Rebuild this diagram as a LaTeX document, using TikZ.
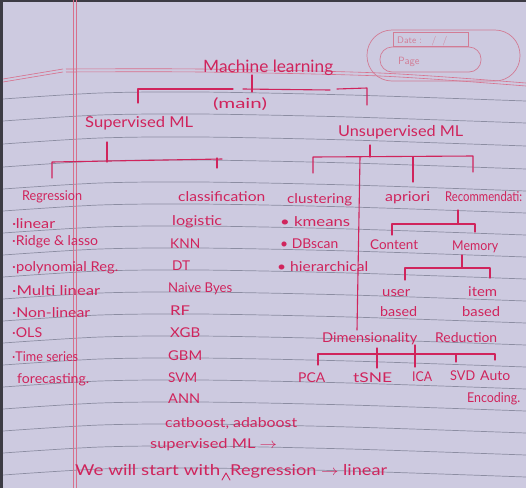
\documentclass[tikz,border=0pt]{standalone}
\usepackage{fontspec}
\setmainfont{Lato}
\definecolor{paper}{HTML}{CDCAE0}
\definecolor{rulec}{HTML}{8C8DA2}
\definecolor{marginc}{HTML}{D8708C}
\definecolor{inkc}{HTML}{D0245C}
\definecolor{stampc}{HTML}{D27C95}
\definecolor{edgec}{HTML}{3C3B44}
% handwriting: stretch the text to a given width, keep its height
\newcommand{\hw}[2]{\resizebox{#1pt}{\height}{#2}}
\begin{document}
\begin{tikzpicture}[x=1pt,y=-1pt,
  rule/.style={draw=rulec, line width=0.7pt},
  marginline/.style={draw=marginc, line width=0.6pt},
  conn/.style={draw=inkc, line width=1.1pt, line cap=round, line join=round},
  hw/.style={text=inkc, inner sep=0pt, anchor=base west, font=\fontsize{13.5}{15}\selectfont},
  big/.style={font=\fontsize{17}{19}\selectfont},
  mid/.style={font=\fontsize{15}{17}\selectfont},
  stamp/.style={draw=stampc, line width=0.7pt}]
\useasboundingbox (0,0) rectangle (526,488);
% paper
\fill[paper] (0,0) rectangle (526,488);
\fill[edgec] (0,0) rectangle (3,488);
\fill[edgec] (0,0) rectangle (526,2);

% ruled lines (the sheet curves slightly)
\foreach \yy in {92,114,137,160,182,204,226,248,270,292,314,336,358,380,402,424,446,468}
  \draw[rule] plot[smooth] coordinates {(3,\yy+7) (100,\yy+1) (200,\yy) (350,\yy+3) (526,\yy+9)};

% header double line
\draw[marginline] (3,79) -- (63,69);
\draw[marginline] (3,82) -- (63,72);
\draw[marginline] plot[smooth] coordinates {(66,69) (200,69) (380,73) (526,83)};
\draw[marginline] plot[smooth] coordinates {(66,72) (200,72) (380,76) (526,86)};
% margin double line
\draw[marginline] (73.5,0) -- (73.5,488);
\draw[marginline] (76.5,0) -- (76.5,488);

% date / page stamp
\draw[stamp, rounded corners=25pt] (367,30) rectangle (520,81);
\draw[stamp] (393,32) rectangle (468,46);
\draw[stamp, rounded corners=12pt] (380,47) rectangle (481,72);
\node[text=stampc, inner sep=0pt, anchor=base west, font=\sffamily\fontsize{9.5}{11}\selectfont] (date) at (397,43) {Date :\ \ \ /\ \ /};
\node[text=stampc, inner sep=0pt, anchor=base west, font=\sffamily\fontsize{10.5}{12}\selectfont] (page) at (398,64) {Page};

% title
\node[hw, big] (ml) at (203,72) {\hw{130}{Machine learning}};
\node[text=inkc, inner sep=0pt, font=\fontsize{14}{16}\selectfont] (main) at (240,104) {\hw{54}{(main)}};
\coordinate (mlstem) at (252,92);
\draw[conn] (252,75) -- (mlstem);
\coordinate (b0l) at (138,103);
\coordinate (b0r) at (367,105);
\draw[conn] (b0l) -- (138,89) -- (233,89);
\draw[conn] (243,89) -- (330,90);
\draw[conn] (337,89) -- (367,88) -- (b0r);

% supervised branch
\node[hw, mid] (sup) at (85,127) {\hw{108}{Supervised ML}};
\coordinate (supstem) at (107,162);
\draw[conn] (107,142) -- (supstem);
\coordinate (supl) at (52,178);
\coordinate (supr) at (217,168);
\draw[conn] (supl) -- (52,162) -- (222,159);
\draw[conn] (217,158) -- (supr);

\node[hw] (reg) at (22,200) {\hw{60}{Regression}};
\node[hw] (cls) at (178,201) {\hw{87}{classification}};

% regression list
\node[hw] (r1) at (12,228) {\hw{43}{·linear}};
\node[hw] (r2) at (12,245) {\hw{86}{·Ridge \& lasso}};
\node[hw] (r3) at (12,271) {\hw{106}{·polynomial Reg.}};
\node[hw] (r4) at (12,295) {\hw{88}{·Multi linear}};
\node[hw] (r5) at (12,317) {\hw{78}{·Non-linear}};
\node[hw] (r6) at (12,337) {\hw{30}{·OLS}};
\node[hw] (r7) at (12,361) {\hw{66}{·Time series}};
\node[hw] (r8) at (17,383) {\hw{72}{forecasting.}};

% classification list
\node[hw] (c1) at (172,225) {\hw{50}{logistic}};
\node[hw] (c2) at (170,248) {\hw{30}{KNN}};
\node[hw] (c3) at (172,270) {\hw{18}{DT}};
\node[hw] (c4) at (168,292) {\hw{64}{Naive Byes}};
\node[hw] (c5) at (170,315) {\hw{20}{RF}};
\node[hw] (c6) at (170,337) {\hw{30}{XGB}};
\node[hw] (c7) at (168,360) {\hw{34}{GBM}};
\node[hw] (c8) at (168,382) {\hw{29}{SVM}};
\node[hw] (c9) at (168,403) {\hw{32}{ANN}};
\node[hw] (c10) at (165,427) {\hw{132}{catboost, adaboost}};
\node[hw] (c11) at (150,448) {\hw{127}{supervised ML $\rightarrow$}};

% closing sentence
\node[hw, mid] (s1) at (75,475) {\hw{145}{We will start with}};
\node[hw, mid] (s2) at (230,475) {\hw{157}{Regression $\rightarrow$ linear}};
\coordinate (caret) at (226,473);
\draw[conn, line width=0.9pt] (222,480) -- (caret) -- (230,480);

% unsupervised branch
\node[hw, mid] (uns) at (338,136) {\hw{125}{Unsupervised ML}};
\coordinate (unsstem) at (370,157);
\draw[conn] (370,145) -- (unsstem);
\coordinate (unsl) at (313,173);
\coordinate (unsr) at (473,172);
\draw[conn] (unsl) -- (313,157) -- (473,156) -- (unsr);
\coordinate (unsm) at (413,182);
\draw[conn] (413,157) -- (unsm);
\coordinate (spine) at (357,330);
\draw[conn] (360,157) -- (spine);

\node[hw] (clu) at (287,203) {\hw{65}{clustering}};
\node[hw] (apr) at (385,201) {\hw{45}{apriori}};
\node[hw] (rec) at (445,201) {\hw{77}{Recommendati:}};

\node[hw] (k1) at (280,226) {\hw{70}{• kmeans}};
\node[hw] (k2) at (280,248) {\hw{58}{• DBscan}};
\node[hw] (k3) at (277,271) {\hw{91}{• hierarchical}};

% recommendation subtree
\coordinate (recstem) at (458,224);
\draw[conn] (458,210) -- (recstem);
\coordinate (recl) at (392,235);
\coordinate (recr) at (475,232);
\draw[conn] (recl) -- (392,224) -- (475,224) -- (recr);
\node[hw] (cont) at (370,249) {\hw{48}{Content}};
\node[hw] (mem) at (452,250) {\hw{46}{Memory}};
\coordinate (memstem) at (462,268);
\draw[conn] (462,255) -- (memstem);
\coordinate (meml) at (405,280);
\coordinate (memr) at (490,278);
\draw[conn] (meml) -- (405,268) -- (490,268) -- (memr);
\node[hw] (ub1) at (382,296) {\hw{28}{user}};
\node[hw] (ub2) at (380,316) {\hw{37}{based}};
\node[hw] (ib1) at (468,296) {\hw{29}{item}};
\node[hw] (ib2) at (462,316) {\hw{38}{based}};

% dimensionality reduction
\node[hw] (dim) at (322,342) {\hw{95}{Dimensionality}};
\node[hw] (red) at (435,342) {\hw{62}{Reduction}};
\coordinate (dl) at (318,365);
\coordinate (dr) at (495,360);
\draw[conn] (dl) -- (318,354) -- (495,354) -- (dr);
\draw[conn] (377,348) -- (377,368);
\draw[conn] (415,345) -- (415,367);
\draw[conn] (456,354) -- (456,362);
\node[hw] (pca) at (298,382) {\hw{27}{PCA}};
\node[hw] (tsne) at (353,382) {\hw{39}{tSNE}};
\node[hw] (ica) at (412,381) {\hw{20}{ICA}};
\node[hw] (svd) at (450,380) {\hw{25}{SVD}};
\node[hw] (auto) at (480,380) {\hw{30}{Auto}};
\node[hw] (enc) at (467,402) {\hw{53}{Encoding.}};
\end{tikzpicture}
\end{document}
